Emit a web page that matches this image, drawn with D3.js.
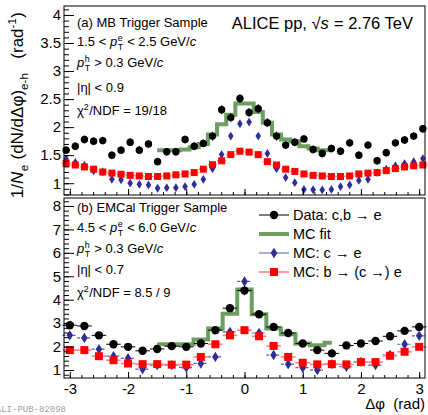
<!DOCTYPE html>
<html>
<head>
<meta charset="utf-8">
<script src="https://cdn.jsdelivr.net/npm/d3@7"></script>
<style>
  body { margin: 0; background: #fff; }
  svg { display: block; }
  text { font-family: "Liberation Sans", Arial, Helvetica, sans-serif; fill: #000; white-space: pre; }
</style>
</head>
<body>
<svg id="chart" width="428" height="415"></svg>
<script>
// ---------- (a) MB trigger sample: 40 bins of width pi/20 ----------
const binsA = [-3.0631, -2.9060, -2.7489, -2.5918, -2.4347, -2.2777, -2.1206, -1.9635, -1.8064, -1.6493,
               -1.4923, -1.3352, -1.1781, -1.0210, -0.8639, -0.7069, -0.5498, -0.3927, -0.2356, -0.0785,
                0.0785,  0.2356,  0.3927,  0.5498,  0.7069,  0.8639,  1.0210,  1.1781,  1.3352,  1.4923,
                1.6493,  1.8064,  1.9635,  2.1206,  2.2777,  2.4347,  2.5918,  2.7489,  2.9060,  3.0631];
const dataA    = [1.59, 1.66, 1.78, 1.75, 1.76, 1.50, 1.59, 1.73, 1.59, 1.70,
                  1.385, 1.56, 1.56, 1.78, 1.66, 1.71, 1.84, 2.31, 2.17, 2.51,
                  2.26, 2.33, 2.08, 1.84, 1.68, 1.73, 1.79, 1.60, 1.53, 1.62,
                  1.57, 1.72, 1.50, 1.68, 1.40, 1.545, 1.72, 1.77, 1.84, 1.97];
const dataAErr = [0.07, 0.07, 0.07, 0.07, 0.07, 0.07, 0.07, 0.07, 0.07, 0.07,
                  0.07, 0.07, 0.07, 0.07, 0.07, 0.07, 0.08, 0.08, 0.08, 0.08,
                  0.08, 0.08, 0.08, 0.08, 0.07, 0.07, 0.07, 0.07, 0.07, 0.07,
                  0.07, 0.07, 0.07, 0.07, 0.07, 0.07, 0.07, 0.07, 0.07, 0.07];
const charmA   = [1.43, 1.37, 1.32, 1.22, 1.20, 1.07, 1.06, 1.00, 0.98, 0.97,
                  0.91, 0.92, 0.92, 0.94, 0.98, 1.07, 1.26, 1.51, 1.84, 2.06,
                  2.09, 1.84, 1.53, 1.26, 1.10, 1.01, 0.89, 0.885, 0.88, 0.89,
                  0.94, 0.97, 1.05, 1.07, 1.19, 1.25, 1.31, 1.35, 1.385, 1.44];
const beautyA  = [1.355, 1.325, 1.29, 1.25, 1.20, 1.18, 1.16, 1.14, 1.13, 1.12,
                  1.12, 1.13, 1.15, 1.165, 1.19, 1.25, 1.33, 1.40, 1.51, 1.57,
                  1.555, 1.51, 1.385, 1.325, 1.25, 1.21, 1.165, 1.14, 1.13, 1.12,
                  1.12, 1.13, 1.165, 1.18, 1.19, 1.225, 1.26, 1.29, 1.31, 1.325];
// MC fit over |dphi| < 1.5 (bins 10..29)
const fitBinsA = binsA.slice(10, 30);
const fitA     = [1.59, 1.59, 1.59, 1.60, 1.64, 1.70, 1.87, 2.05, 2.22, 2.42,
                  2.42, 2.27, 2.08, 1.87, 1.78, 1.75, 1.66, 1.62, 1.59, 1.59];
const halfA = Math.PI / 40;

// ---------- (b) EMCal trigger sample: bins of width 0.25 ----------
const binsB    = [-3, -2.75, -2.5, -2.25, -2, -1.75, -1.5, -1.25, -1, -0.75, -0.5, -0.25, 0,
                  0.25, 0.5, 0.75, 1, 1.25, 1.5, 1.75, 2, 2.25, 2.5, 2.75, 3];
const dataB    = [2.91, 2.88, 2.48, 2.10, 1.99, 1.82, 1.90, 2.02, 1.99, 2.13, 2.70, 3.64, 4.39,
                  3.38, 2.84, 2.58, 2.13, 1.85, 1.71, 2.05, 2.13, 2.24, 2.44, 2.67, 2.84];
const dataBErr = [0.12, 0.12, 0.11, 0.1, 0.1, 0.1, 0.1, 0.1, 0.1, 0.1, 0.13, 0.16, 0.2,
                  0.15, 0.13, 0.12, 0.1, 0.1, 0.1, 0.1, 0.1, 0.1, 0.11, 0.12, 0.12];
const charmB   = [2.48, 2.37, 1.89, 1.59, 1.50, 1.04, 1.21, 1.21, 1.11, 1.28, 1.56, 2.63, 4.78,
                  2.58, 1.64, 1.25, 1.10, 1.00, 1.25, 1.14, 1.35, 1.21, 1.64, 2.10, 2.46];
const beautyB  = [1.85, 1.85, 1.59, 1.42, 1.28, 1.25, 1.25, 1.23, 1.23, 1.56, 2.10, 2.48, 2.70,
                  2.44, 2.03, 1.56, 1.31, 1.24, 1.25, 1.24, 1.34, 1.34, 1.61, 1.78, 1.99];
const fitBinsB = binsB.slice(6, 19);
const fitB     = [2.10, 2.10, 2.10, 2.30, 2.77, 3.40, 4.44, 3.38, 2.77, 2.53, 2.13, 2.06, 2.16];
const halfB = 0.125;

const fitRange = [-1.5, 1.5];
const xTicks = [-3, -2, -1, 0, 1, 2, 3];
const yTicksA = [1, 1.5, 2, 2.5, 3, 3.5, 4];
const yTicksB = [1, 2, 3, 4, 5, 6, 7, 8];

// ---------- styling ----------
const C_DATA = "#000";
const C_CHARM = "#2e2e96";
const C_CHARM_ERR = "#5a5ab8";
const C_BEAUTY = "#ff0000";
const C_BEAUTY_ERR = "#ff8080";
const C_FIT = "#6b9e60";

const svg = d3.select("#chart");
svg.append("rect").attr("width", 428).attr("height", 415).attr("fill", "#fff");

const L = 64, R = 425;
const x = d3.scaleLinear().domain([-3.1, 3.1]).range([L, R]);
const yA = d3.scaleLinear().domain([0.79, 4.16]).range([195, 6]);
const yB = d3.scaleLinear().domain([0.66, 8.34]).range([378, 198]);

// rich text helper: parts are strings or {i}, {sub}, {sup}, {sub, sup}
function rich(parent, x0, y0, parts, size, anchor) {
  const g = parent.append("g");
  let cx = x0;
  const small = size * 0.68;
  for (const p of parts) {
    if (typeof p === "string") {
      const t = g.append("text").attr("x", cx).attr("y", y0).style("font-size", size + "px").text(p);
      cx += t.node().getComputedTextLength();
    } else if (p.i !== undefined) {
      const t = g.append("text").attr("x", cx).attr("y", y0).style("font-size", size + "px")
        .style("font-style", "italic").text(p.i);
      cx += t.node().getComputedTextLength() + 0.5;
    } else {
      let w = 0;
      if (p.sub !== undefined) {
        const t = g.append("text").attr("x", cx).attr("y", y0 + size * 0.3)
          .style("font-size", small + "px").text(p.sub);
        w = Math.max(w, t.node().getComputedTextLength());
      }
      if (p.sup !== undefined) {
        const t = g.append("text").attr("x", cx).attr("y", y0 - size * 0.42)
          .style("font-size", small + "px").text(p.sup);
        w = Math.max(w, t.node().getComputedTextLength());
      }
      cx += w + 0.5;
    }
  }
  const width = cx - x0;
  if (anchor === "end") g.attr("transform", `translate(${-width},0)`);
  return { g, width };
}

function drawAxes(y, top, bottom, majorY, minorY, showXLabels, yFmt) {
  // left axis, ticks pointing inward
  svg.append("g").attr("transform", `translate(${L},0)`)
    .call(d3.axisLeft(y).tickValues(minorY).tickSizeInner(-5).tickSizeOuter(0).tickFormat(""))
    .call(g => g.select(".domain").remove());
  const ay = svg.append("g").attr("transform", `translate(${L},0)`)
    .call(d3.axisLeft(y).tickValues(majorY).tickSizeInner(-10).tickSizeOuter(0).tickPadding(3).tickFormat(yFmt))
    .call(g => g.select(".domain").remove());
  ay.selectAll("text").style("font-size", "15px").style("font-family", '"Liberation Sans", Arial, sans-serif').attr("fill", "#000");

  // bottom axis, ticks pointing up
  const minorX = d3.range(-15, 16).map(v => v / 5);
  svg.append("g").attr("transform", `translate(0,${bottom})`)
    .call(d3.axisBottom(x).tickValues(minorX).tickSizeInner(-3).tickSizeOuter(0).tickFormat(""))
    .call(g => g.select(".domain").remove());
  const ax = svg.append("g").attr("transform", `translate(0,${bottom})`)
    .call(d3.axisBottom(x).tickValues(xTicks).tickSizeInner(-6).tickSizeOuter(0).tickPadding(5)
      .tickFormat(showXLabels ? (d => String(d).replace("\u2212", "-")) : ""))
    .call(g => g.select(".domain").remove());
  ax.selectAll("text").style("font-size", "15px").style("font-family", '"Liberation Sans", Arial, sans-serif').attr("fill", "#000");
  svg.selectAll(".tick line").attr("stroke", "#000");

  svg.append("rect").attr("x", L).attr("y", top).attr("width", R - L).attr("height", bottom - top)
    .attr("fill", "none").attr("stroke", "#000").attr("stroke-width", 1);
}

function stepPath(bins, vals, half, y) {
  const pts = [];
  bins.forEach((c, i) => {
    const a = Math.max(c - half, fitRange[0]);
    const b = Math.min(c + half, fitRange[1]);
    pts.push([x(a), y(vals[i])], [x(b), y(vals[i])]);
  });
  return d3.line()(pts);
}

function diamond(cx, cy, w, h) {
  return `M${cx},${cy - h}L${cx + w},${cy}L${cx},${cy + h}L${cx - w},${cy}Z`;
}

function drawPanel(cfg) {
  const { y, bins, half, data, err, charm, beauty, fitBins, fit, big } = cfg;
  const g = svg.append("g");

  // MC fit
  g.append("path").attr("d", stepPath(fitBins, fit, half, y))
    .attr("fill", "none").attr("stroke", C_FIT).attr("stroke-width", 4).attr("stroke-linejoin", "miter");

  // charm MC
  const gc = g.append("g");
  bins.forEach((c, i) => {
    if (big) {
      gc.append("line").attr("x1", x(c - half)).attr("x2", x(c + half)).attr("y1", y(charm[i])).attr("y2", y(charm[i]))
        .attr("stroke", C_CHARM_ERR).attr("stroke-width", 1.2).attr("stroke-dasharray", "3,2");
      gc.append("line").attr("x1", x(c)).attr("x2", x(c)).attr("y1", y(charm[i] - 0.15)).attr("y2", y(charm[i] + 0.15))
        .attr("stroke", C_CHARM_ERR).attr("stroke-width", 1).attr("stroke-dasharray", "2,2");
    } else {
      gc.append("line").attr("x1", x(c)).attr("x2", x(c)).attr("y1", y(charm[i] - 0.04)).attr("y2", y(charm[i] + 0.04))
        .attr("stroke", C_CHARM_ERR).attr("stroke-width", 1);
    }
    gc.append("path").attr("d", big ? diamond(x(c), y(charm[i]), 3.3, 5.2) : diamond(x(c), y(charm[i]), 2.8, 4.4))
      .attr("fill", C_CHARM);
  });

  // beauty MC
  const gb = g.append("g");
  bins.forEach((c, i) => {
    gb.append("line").attr("x1", x(c - half)).attr("x2", x(c + half)).attr("y1", y(beauty[i])).attr("y2", y(beauty[i]))
      .attr("stroke", C_BEAUTY_ERR).attr("stroke-width", big ? 1.6 : 1.2);
    const s = big ? 8 : 7;
    gb.append("rect").attr("x", x(c) - s / 2).attr("y", y(beauty[i]) - s / 2).attr("width", s).attr("height", s)
      .attr("fill", C_BEAUTY);
  });

  // data
  const gd = g.append("g");
  bins.forEach((c, i) => {
    if (big) {
      gd.append("line").attr("x1", x(c - half)).attr("x2", x(c + half)).attr("y1", y(data[i])).attr("y2", y(data[i]))
        .attr("stroke", C_DATA).attr("stroke-width", 1);
    }
    gd.append("line").attr("x1", x(c)).attr("x2", x(c)).attr("y1", y(data[i] - err[i])).attr("y2", y(data[i] + err[i]))
      .attr("stroke", C_DATA).attr("stroke-width", 1);
    gd.append("circle").attr("cx", x(c)).attr("cy", y(data[i])).attr("r", big ? 4.2 : 3.7).attr("fill", C_DATA);
  });
}

// ---------- panel (a) ----------
drawPanel({ y: yA, bins: binsA, half: halfA, data: dataA, err: dataAErr, charm: charmA, beauty: beautyA,
            fitBins: fitBinsA, fit: fitA, big: false });
drawAxes(yA, 6, 195, yTicksA, d3.range(8, 42).map(v => v / 10), false, d => String(d));

// ---------- panel (b) ----------
drawPanel({ y: yB, bins: binsB, half: halfB, data: dataB, err: dataBErr, charm: charmB, beauty: beautyB,
            fitBins: fitBinsB, fit: fitB, big: true });
drawAxes(yB, 198, 378, yTicksB, d3.range(4, 42).map(v => v / 5), true, d => String(d));

// ---------- annotations ----------
const fs = 13;
rich(svg, 77, 26.5, ["(a) MB Trigger Sample"], fs);
rich(svg, 77, 46, ["1.5 < ", { i: "p" }, { sub: "T", sup: "e" }, " < 2.5 GeV/", { i: "c" }], fs);
rich(svg, 77, 67, [{ i: "p" }, { sub: "T", sup: "h" }, " > 0.3 GeV/", { i: "c" }], fs);
rich(svg, 77, 92, ["|\u03B7| < 0.9"], fs);
rich(svg, 77, 115, ["\u03C7", { sup: "2" }, "/NDF = 19/18"], fs);

rich(svg, 413, 29, ["ALICE pp, \u221A", { i: "s" }, " = 2.76 TeV"], 16.5, "end");

rich(svg, 77, 212, ["(b) EMCal Trigger Sample"], fs);
rich(svg, 77, 232, ["4.5 < ", { i: "p" }, { sub: "T", sup: "e" }, " < 6.0 GeV/", { i: "c" }], fs);
rich(svg, 77, 253, [{ i: "p" }, { sub: "T", sup: "h" }, " > 0.3 GeV/", { i: "c" }], fs);
rich(svg, 77, 274, ["|\u03B7| < 0.7"], fs);
rich(svg, 77, 297, ["\u03C7", { sup: "2" }, "/NDF = 8.5 / 9"], fs);

// ---------- legend ----------
const legend = [
  { label: "Data: c,b \u2192 e", kind: "data" },
  { label: "MC fit", kind: "fit" },
  { label: "MC: c \u2192 e", kind: "charm" },
  { label: "MC: b \u2192 (c \u2192) e", kind: "beauty" }
];
const lg = svg.append("g");
legend.forEach((e, i) => {
  const cy = 215 + i * 19;
  const x1 = 259, x2 = 289, mx = 274;
  if (e.kind === "data") {
    lg.append("line").attr("x1", x1).attr("x2", x2).attr("y1", cy).attr("y2", cy).attr("stroke", C_DATA);
    lg.append("circle").attr("cx", mx).attr("cy", cy).attr("r", 4.2).attr("fill", C_DATA);
  } else if (e.kind === "fit") {
    lg.append("line").attr("x1", x1).attr("x2", x2).attr("y1", cy).attr("y2", cy).attr("stroke", C_FIT).attr("stroke-width", 4);
  } else if (e.kind === "charm") {
    lg.append("line").attr("x1", x1).attr("x2", x2).attr("y1", cy).attr("y2", cy).attr("stroke", C_CHARM_ERR);
    lg.append("path").attr("d", diamond(mx, cy, 3.3, 5.2)).attr("fill", C_CHARM);
  } else {
    lg.append("line").attr("x1", x1).attr("x2", x2).attr("y1", cy).attr("y2", cy).attr("stroke", C_BEAUTY_ERR).attr("stroke-width", 1.6);
    lg.append("rect").attr("x", mx - 4).attr("y", cy - 4).attr("width", 8).attr("height", 8).attr("fill", C_BEAUTY);
  }
  lg.append("text").attr("x", 293).attr("y", cy + 5).style("font-size", "14.5px").text(e.label);
});

// ---------- axis titles ----------
svg.append("text").attr("x", 425).attr("y", 409).attr("text-anchor", "end").style("font-size", "15px")
  .text("\u0394\u03C6  (rad)");

const yt = svg.append("g");
const inner = yt.append("g");
const tA = rich(inner, 0, 0, ["1/", { i: "N" }, { sub: "e" }, " (dN/d\u0394\u03C6)", { sub: "e-h" }], 17);
const tB = rich(inner, tA.width + 14, 0, ["(rad", { sup: "-1" }, ")"], 17);
const total = tA.width + 14 + tB.width;
yt.attr("transform", `translate(23,${12 + total}) rotate(-90)`);

// ---------- publication id ----------
svg.append("text").attr("x", 66).attr("y", 412).attr("text-anchor", "end")
  .style("font-family", '"Liberation Mono", "DejaVu Sans Mono", monospace').style("font-size", "9px")
  .style("fill", "#a0a0a0").text("ALI-PUB-82098");
</script>
</body>
</html>
